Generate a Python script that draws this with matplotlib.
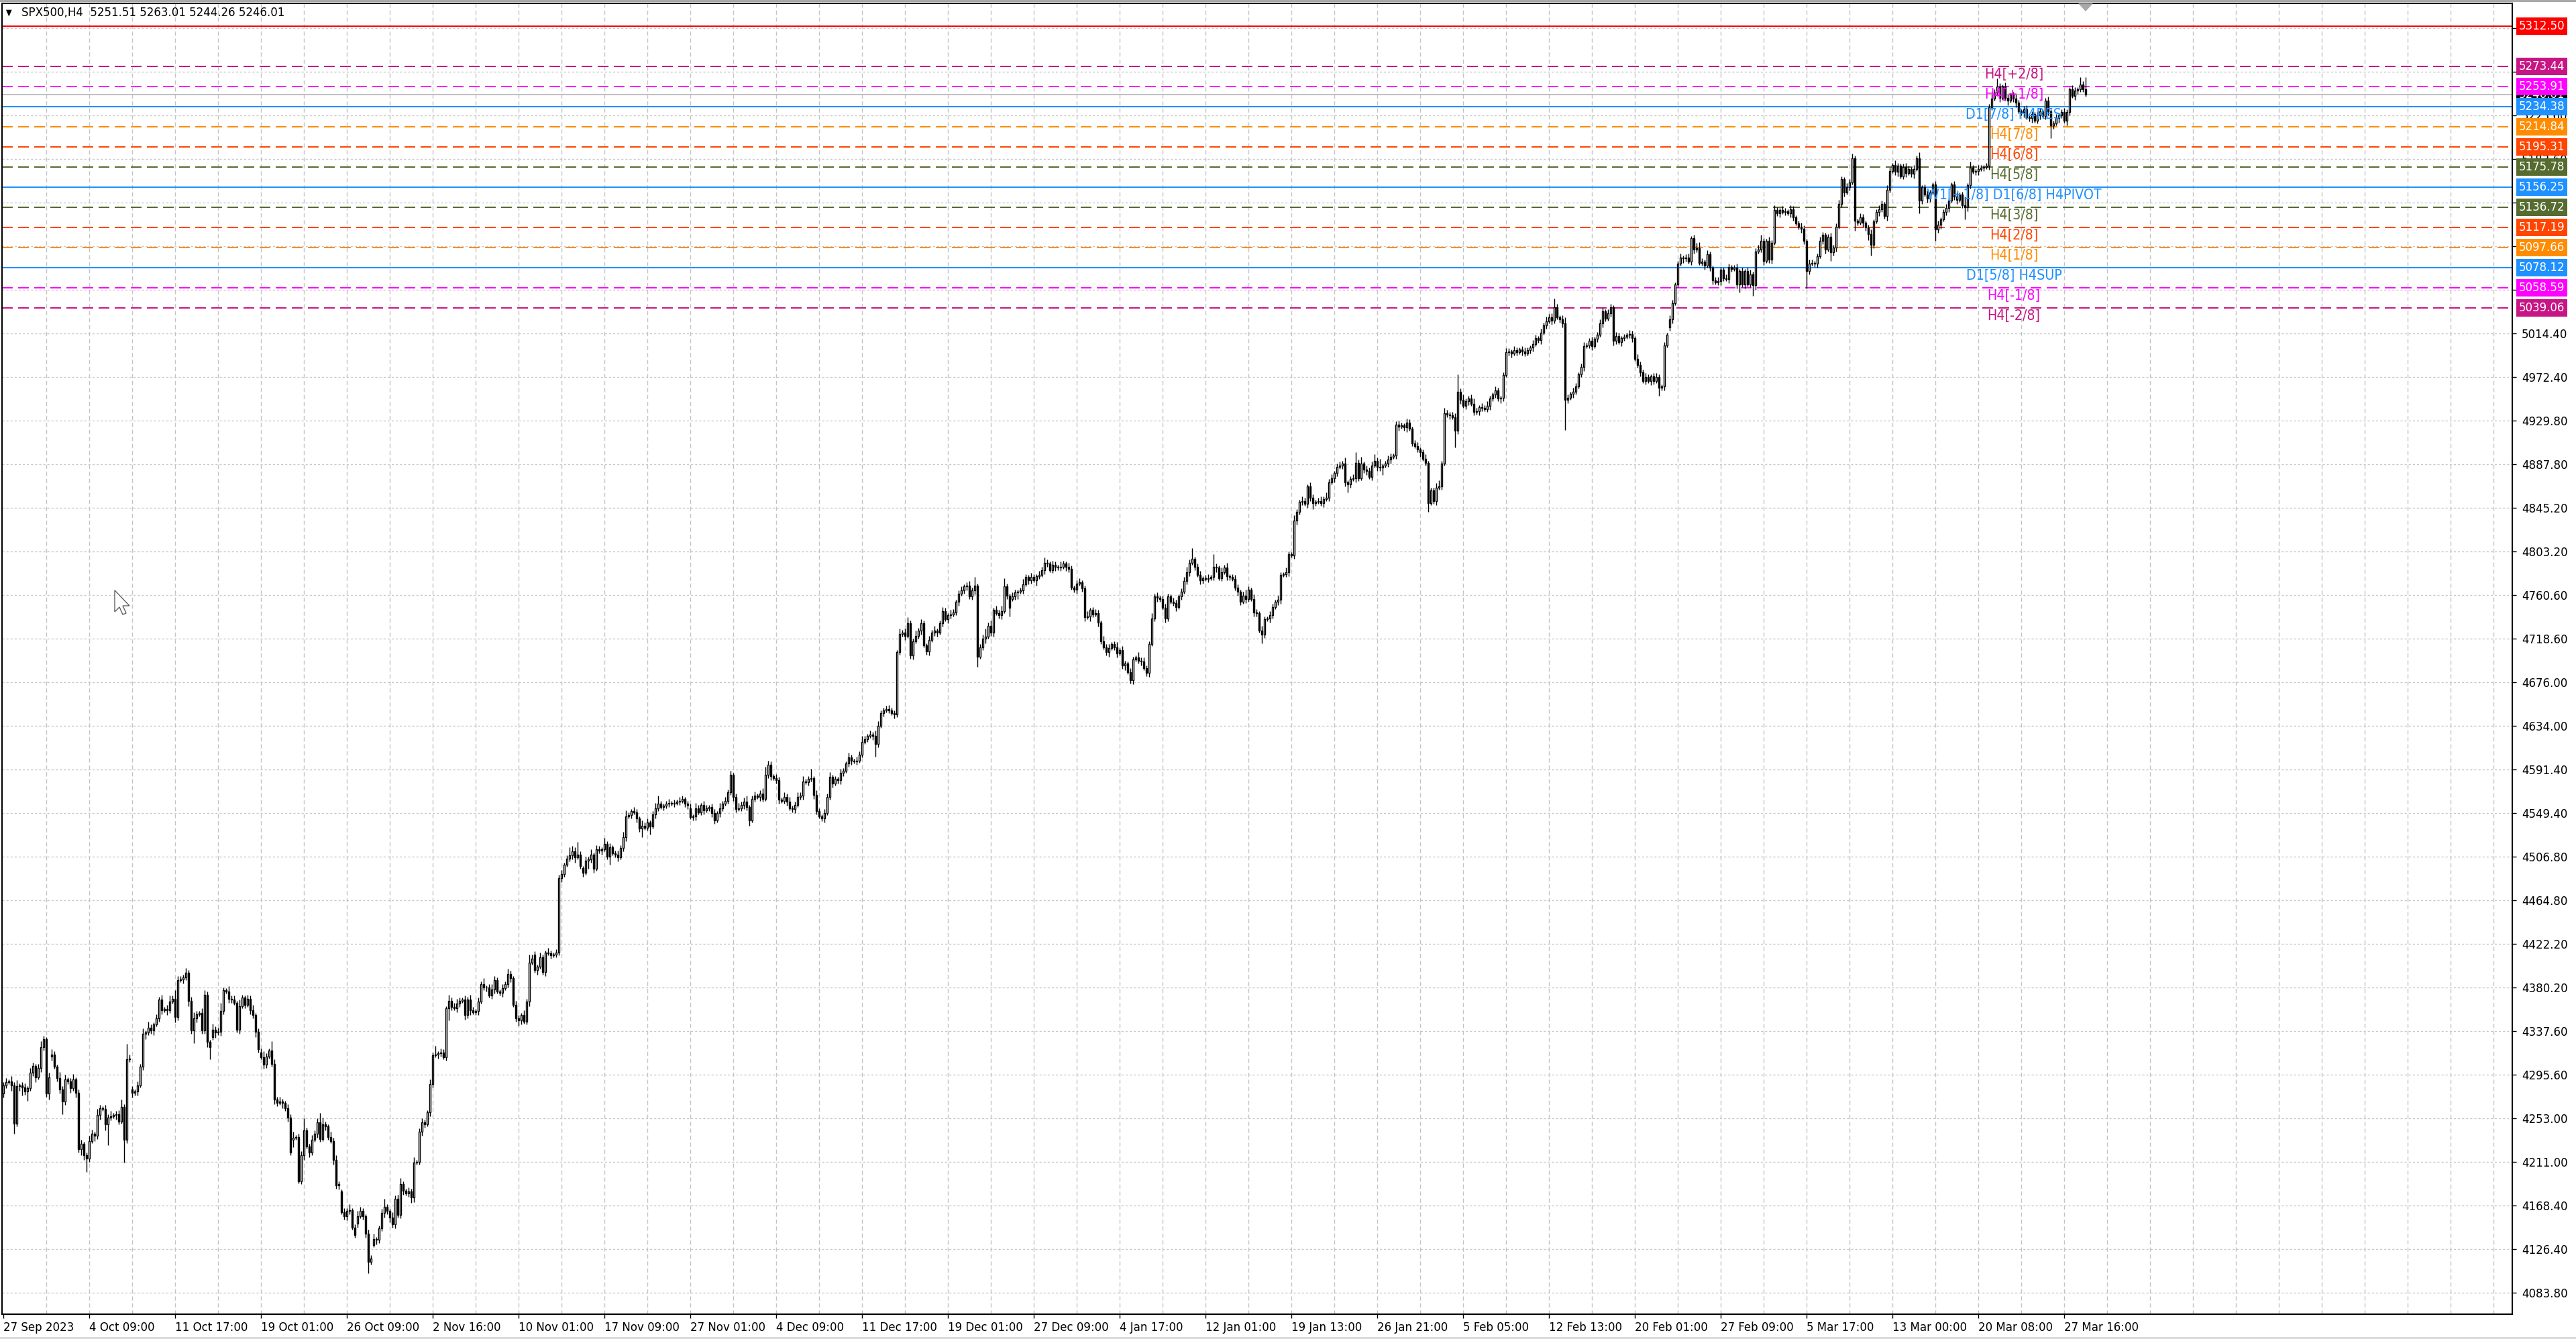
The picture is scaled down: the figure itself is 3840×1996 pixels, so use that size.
import matplotlib
matplotlib.use('Agg')
import matplotlib.pyplot as plt
import matplotlib.transforms as mtransforms
from matplotlib import font_manager
from matplotlib.patches import Polygon, Rectangle
import numpy as np

# ---- data (SPX500, H4) ----
first_open = 4277
closes = [
    4285, 4288, 4289, 4285, 4248, 4284, 4285, 4283, 4279, 4282,
    4297, 4304, 4293, 4302, 4322, 4330, 4277, 4293, 4315, 4303,
    4292, 4281, 4269, 4291, 4289, 4282, 4291, 4278, 4223, 4228,
    4217, 4214, 4231, 4238, 4236, 4256, 4263, 4262, 4247, 4254,
    4255, 4256, 4257, 4250, 4264, 4232, 4310, 4311, 4278, 4279,
    4285, 4303, 4335, 4336, 4341, 4338, 4344, 4350, 4368, 4358,
    4359, 4358, 4366, 4369, 4351, 4387, 4388, 4390, 4394, 4367,
    4338, 4350, 4354, 4355, 4338, 4373, 4327, 4322, 4339, 4336,
    4337, 4357, 4377, 4376, 4369, 4368, 4365, 4339, 4362, 4370,
    4363, 4369, 4358, 4353, 4337, 4320, 4312, 4305, 4313, 4319,
    4306, 4271, 4268, 4269, 4268, 4263, 4254, 4220, 4234, 4235,
    4192, 4217, 4241, 4226, 4220, 4232, 4238, 4249, 4233, 4247,
    4245, 4235, 4231, 4213, 4188, 4189, 4162, 4158, 4163, 4164,
    4147, 4140, 4158, 4163, 4158, 4141, 4114, 4117, 4136, 4135,
    4146, 4161, 4167, 4163, 4157, 4150, 4175, 4159, 4189, 4183,
    4180, 4182, 4176, 4210, 4211, 4240, 4249, 4247, 4259, 4286,
    4314, 4315, 4316, 4317, 4312, 4360, 4367, 4361, 4360, 4364,
    4367, 4368, 4353, 4368, 4358, 4356, 4357, 4366, 4383, 4380,
    4380, 4372, 4378, 4387, 4376, 4375, 4379, 4383, 4393, 4389,
    4363, 4350, 4348, 4353, 4347, 4366, 4404, 4408, 4397, 4400,
    4409, 4395, 4414, 4413, 4411, 4412, 4414, 4486, 4490, 4499,
    4505, 4508, 4512, 4506, 4509, 4498, 4491, 4503, 4504, 4509,
    4495, 4514, 4513, 4514, 4519, 4507, 4516, 4510, 4509, 4506,
    4515, 4526, 4546, 4547, 4551, 4550, 4544, 4534, 4537, 4535,
    4540, 4536, 4548, 4554, 4558, 4555, 4556, 4558, 4559, 4558,
    4559, 4560, 4561, 4563, 4558, 4557, 4545, 4546, 4554, 4550,
    4557, 4552, 4554, 4555, 4549, 4542, 4549, 4554, 4558, 4561,
    4569, 4586, 4565, 4553, 4554, 4557, 4560, 4555, 4542, 4563,
    4566, 4565, 4568, 4563, 4586, 4596, 4585, 4583, 4581, 4562,
    4561, 4565, 4560, 4554, 4553, 4557, 4565, 4566, 4580, 4579,
    4582, 4583, 4567, 4551, 4546, 4544, 4549, 4565, 4584, 4578,
    4582, 4581, 4588, 4590, 4597, 4603, 4600, 4599, 4600, 4606,
    4618, 4621, 4624, 4625, 4624, 4616, 4634, 4646, 4649, 4650,
    4649, 4646, 4645, 4705, 4723, 4724, 4721, 4733, 4702, 4716,
    4721, 4726, 4733, 4712, 4706, 4717, 4724, 4726, 4724, 4733,
    4745, 4737, 4741, 4742, 4744, 4754, 4762, 4765, 4769, 4770,
    4759, 4765, 4770, 4701, 4710, 4718, 4720, 4731, 4724, 4746,
    4743, 4741, 4745, 4769, 4760, 4748, 4759, 4763, 4764, 4765,
    4771, 4778, 4775, 4778, 4775, 4779, 4780, 4785, 4792, 4791,
    4785, 4790, 4788, 4787, 4788, 4791, 4788, 4786, 4768, 4766,
    4772, 4773, 4767, 4739, 4740, 4746, 4742, 4743, 4734, 4716,
    4710, 4705, 4709, 4713, 4710, 4704, 4707, 4692, 4694, 4686,
    4678, 4698, 4700, 4697, 4696, 4690, 4685, 4713, 4738, 4759,
    4758, 4757, 4748, 4738, 4759, 4754, 4753, 4749, 4759, 4764,
    4774, 4783, 4792, 4796, 4788, 4780, 4775, 4777, 4776, 4777,
    4778, 4788, 4787, 4777, 4783, 4787, 4779, 4778, 4776, 4768,
    4764, 4754, 4760, 4757, 4766, 4757, 4744, 4743, 4726, 4722,
    4737, 4738, 4741, 4749, 4754, 4756, 4780, 4781, 4783, 4800,
    4799, 4833, 4841, 4851, 4852, 4849, 4866, 4855, 4850, 4851,
    4852, 4850, 4854, 4855, 4870, 4874, 4879, 4885, 4886, 4888,
    4870, 4868, 4873, 4874, 4889, 4874, 4888, 4882, 4881, 4875,
    4886, 4891, 4885, 4884, 4886, 4888, 4892, 4895, 4896, 4926,
    4924, 4925, 4923, 4928, 4922, 4908, 4905, 4902, 4899, 4893,
    4889, 4850, 4862, 4852, 4865, 4866, 4888, 4937, 4936, 4935,
    4933, 4920, 4958, 4950, 4944, 4949, 4951, 4946, 4938, 4939,
    4943, 4942, 4941, 4944, 4951, 4955, 4959, 4951, 4952, 4974,
    4996, 4997, 4995, 4998, 4996, 4999, 4997, 4995, 4998, 5001,
    5004, 5010, 5008, 5015, 5022, 5026, 5030, 5027, 5040, 5030,
    5028, 5024, 4950, 4952, 4956, 4958, 4963, 4975, 4982, 5002,
    5003, 5007, 5002, 5009, 5013, 5024, 5036, 5029, 5034, 5040,
    5007, 5012, 5006, 5010, 5011, 5013, 5014, 5010, 4990, 4984,
    4977, 4968, 4972, 4968, 4973, 4968, 4972, 4962, 4963, 5003,
    5013, 5028, 5044, 5062, 5082, 5088, 5087, 5088, 5084, 5107,
    5096, 5097, 5083, 5084, 5080, 5091, 5078, 5066, 5064, 5065,
    5076, 5068, 5067, 5079, 5077, 5078, 5062, 5075, 5062, 5075,
    5062, 5072, 5061, 5094, 5096, 5104, 5085, 5104, 5086, 5102,
    5134, 5131, 5134, 5132, 5133, 5131, 5135, 5127, 5121, 5118,
    5116, 5104, 5075, 5082, 5083, 5082, 5089, 5104, 5110, 5096,
    5108, 5093, 5098, 5118, 5140, 5164, 5151, 5156, 5161, 5184,
    5124, 5122, 5127, 5122, 5117, 5111, 5100, 5123, 5132, 5135,
    5140, 5128, 5154, 5172, 5178, 5171, 5177, 5167, 5176, 5170,
    5174, 5169, 5174, 5184, 5143, 5156, 5149, 5145, 5151, 5159,
    5115, 5120, 5125, 5132, 5136, 5143, 5159, 5147, 5144, 5149,
    5139, 5137, 5158, 5175, 5171, 5172, 5174, 5175, 5176, 5177,
    5234, 5242, 5248, 5254, 5243, 5254, 5243, 5240, 5246, 5242,
    5238, 5230, 5229, 5232, 5224, 5223, 5227, 5221, 5226, 5230,
    5225, 5240, 5230, 5216, 5218, 5223, 5226, 5229, 5221, 5229,
    5251, 5245, 5250, 5251, 5256, 5251.51, 5246.01,
]
# opens that differ from the previous close (session gaps)
gap_opens = {18: 4313, 48: 4281, 78: 4332, 96: 4317, 108: 4232, 126: 4182,
             132: 4151, 138: 4130, 198: 4412, 216: 4496, 256: 4554, 376: 4757,
             621: 5020}
wick_up = [
    3, 4, 2, 5, 3, 6, 2, 3, 4, 2, 5, 3, 2, 4, 6, 3, 2, 4, 5, 3,
    2, 6, 3, 4, 2, 3, 5, 2, 3, 4, 2, 3, 5, 4, 2, 6, 3, 2, 4, 3,
    5, 2, 3, 4, 7, 3, 15, 4, 3, 2, 4, 3, 5, 2, 6, 3, 2, 4, 3, 5,
    2, 4, 6, 3, 8, 4, 3, 2, 5, 3, 4, 6, 3, 2, 5, 4, 3, 2, 6, 3,
    4, 8, 3, 2, 5, 3, 4, 2, 6, 3, 2, 4, 3, 5, 2, 3, 4, 6, 3, 2,
    9, 4, 3, 5, 3, 2, 4, 3, 6, 2, 3, 4, 12, 3, 2, 5, 3, 4, 9, 7,
    3, 2, 5, 3, 4, 3, 2, 4, 3, 6, 2, 3, 5, 4, 3, 2, 4, 3, 5, 2,
    3, 4, 8, 3, 2, 5, 3, 4, 6, 3, 2, 4, 3, 5, 2, 3, 4, 3, 2, 5,
    3, 8, 2, 4, 3, 2, 6, 3, 4, 5, 3, 2, 4, 3, 5, 3, 2, 4, 3, 6,
    2, 3, 5, 4, 3, 2, 4, 3, 5, 3, 2, 4, 3, 2, 5, 3, 8, 4, 3, 2,
    5, 3, 2, 4, 3, 2, 3, 3, 4, 2, 3, 8, 5, 4, 12, 3, 2, 4, 3, 5,
    2, 4, 3, 2, 6, 3, 4, 2, 3, 4, 3, 5, 6, 3, 2, 4, 3, 2, 5, 3,
    4, 2, 3, 5, 8, 3, 2, 3, 4, 2, 3, 2, 4, 3, 2, 3, 4, 2, 5, 3,
    2, 4, 3, 2, 3, 4, 2, 5, 3, 4, 3, 4, 2, 3, 5, 3, 4, 6, 2, 3,
    4, 2, 3, 5, 8, 4, 3, 2, 4, 3, 2, 4, 3, 5, 2, 3, 4, 3, 5, 2,
    3, 9, 2, 4, 3, 2, 4, 3, 5, 2, 3, 2, 4, 3, 2, 5, 3, 2, 4, 3,
    6, 3, 2, 4, 3, 5, 4, 3, 2, 3, 4, 2, 3, 2, 5, 3, 4, 6, 3, 2,
    5, 3, 4, 3, 2, 4, 3, 5, 2, 3, 4, 3, 2, 4, 3, 2, 3, 4, 2, 3,
    4, 3, 8, 2, 3, 4, 8, 3, 5, 2, 4, 3, 5, 8, 3, 2, 4, 3, 2, 3,
    5, 3, 2, 4, 3, 2, 4, 3, 5, 3, 2, 4, 3, 2, 5, 3, 2, 4, 3, 2,
    3, 4, 2, 3, 5, 2, 3, 4, 3, 2, 5, 3, 4, 2, 3, 5, 2, 4, 3, 2,
    4, 3, 2, 5, 3, 4, 2, 3, 5, 3, 4, 2, 3, 4, 3, 2, 4, 3, 2, 3,
    4, 5, 3, 10, 2, 3, 4, 2, 3, 4, 2, 12, 3, 2, 4, 3, 5, 2, 3, 4,
    3, 2, 4, 6, 3, 2, 4, 3, 2, 5, 3, 2, 4, 3, 2, 4, 3, 2, 4, 3,
    2, 5, 3, 2, 4, 3, 2, 4, 3, 2, 3, 4, 2, 5, 3, 4, 2, 3, 4, 3,
    6, 2, 3, 4, 10, 3, 7, 2, 4, 3, 4, 6, 3, 8, 2, 3, 4, 3, 2, 3,
    4, 3, 2, 4, 3, 2, 3, 4, 2, 3, 4, 2, 3, 3, 4, 6, 3, 5, 3, 2,
    3, 4, 17, 3, 5, 2, 3, 4, 5, 3, 2, 4, 3, 5, 3, 2, 4, 3, 2, 3,
    4, 3, 2, 4, 3, 2, 3, 4, 3, 2, 4, 3, 2, 4, 3, 5, 3, 4, 8, 3,
    2, 4, 6, 3, 2, 4, 3, 2, 3, 4, 2, 3, 4, 2, 3, 4, 3, 2, 4, 3,
    2, 4, 3, 2, 3, 2, 4, 3, 2, 4, 3, 2, 4, 3, 2, 3, 4, 3, 2, 3,
    2, 4, 3, 2, 3, 4, 2, 3, 4, 2, 3, 5, 6, 3, 2, 4, 3, 2, 3, 4,
    3, 2, 4, 3, 2, 3, 4, 2, 3, 2, 3, 4, 2, 3, 4, 6, 3, 2, 4, 3,
    5, 3, 2, 4, 3, 2, 4, 3, 2, 3, 4, 3, 2, 4, 3, 2, 3, 4, 3, 2,
    3, 4, 2, 3, 4, 3, 2, 4, 3, 5, 3, 2, 4, 3, 2, 3, 4, 2, 3, 4,
    3, 2, 4, 3, 2, 4, 3, 2, 3, 4, 3, 2, 4, 3, 6, 2, 3, 4, 3, 2,
    3, 4, 2, 3, 4, 3, 2, 3, 4, 2, 3, 8, 2, 6, 3, 2, 4, 3, 2, 3,
    3, 4, 3, 8, 3, 2, 4, 3, 2, 3, 4, 3, 2, 3, 4, 2, 3, 2, 4, 3,
    2, 3, 4, 2, 3, 4, 2, 3, 4, 3, 2, 4, 3, 2, 7, 3, 0,
]
wick_dn = [
    4, 3, 2, 5, 10, 3, 4, 8, 3, 9, 2, 3, 5, 2, 4, 3, 3, 6, 4, 2,
    3, 4, 12, 3, 3, 4, 2, 5, 3, 6, 4, 13, 3, 2, 5, 3, 4, 2, 6, 20,
    3, 2, 4, 3, 2, 22, 3, 2, 5, 3, 4, 2, 3, 5, 2, 3, 4, 2, 3, 4,
    2, 5, 3, 2, 5, 3, 2, 4, 3, 5, 3, 12, 4, 2, 3, 3, 5, 12, 3, 5,
    2, 4, 3, 2, 4, 3, 2, 3, 4, 2, 3, 2, 4, 3, 5, 3, 2, 4, 3, 2,
    3, 4, 3, 2, 5, 3, 4, 3, 7, 2, 2, 3, 4, 2, 5, 3, 2, 4, 3, 2,
    4, 3, 2, 5, 3, 4, 2, 3, 4, 3, 2, 3, 4, 2, 3, 4, 11, 3, 2, 4,
    3, 2, 4, 3, 5, 3, 4, 2, 3, 4, 2, 3, 5, 4, 2, 3, 4, 3, 2, 4,
    3, 2, 4, 3, 2, 3, 12, 3, 2, 4, 3, 2, 4, 3, 5, 2, 3, 4, 2, 3,
    4, 2, 3, 4, 2, 3, 4, 2, 3, 4, 2, 3, 5, 4, 2, 3, 4, 2, 3, 5,
    2, 3, 4, 2, 3, 2, 3, 3, 4, 3, 2, 3, 4, 5, 2, 3, 4, 2, 8, 3,
    4, 2, 3, 4, 2, 3, 8, 2, 3, 4, 2, 3, 4, 2, 3, 2, 4, 3, 8, 2,
    3, 8, 2, 4, 3, 2, 3, 2, 3, 2, 3, 2, 3, 2, 3, 4, 2, 3, 4, 2,
    3, 4, 2, 3, 4, 3, 2, 4, 3, 2, 3, 2, 4, 3, 2, 3, 4, 3, 5, 2,
    3, 2, 4, 3, 2, 3, 4, 2, 3, 4, 2, 3, 4, 2, 3, 4, 2, 3, 4, 2,
    3, 2, 4, 3, 2, 3, 4, 2, 3, 4, 2, 3, 4, 3, 2, 3, 4, 2, 3, 2,
    3, 2, 3, 2, 4, 12, 3, 2, 3, 2, 3, 2, 4, 3, 2, 3, 4, 2, 3, 4,
    2, 3, 4, 2, 3, 4, 2, 3, 4, 2, 3, 2, 4, 3, 2, 3, 4, 2, 3, 4,
    2, 3, 4, 10, 2, 3, 4, 2, 3, 4, 2, 3, 4, 2, 3, 8, 2, 3, 6, 2,
    3, 2, 4, 3, 2, 5, 3, 2, 4, 3, 2, 3, 4, 2, 3, 2, 4, 3, 2, 3,
    4, 2, 3, 4, 2, 5, 3, 2, 4, 3, 2, 3, 4, 2, 3, 4, 2, 3, 4, 2,
    3, 4, 2, 3, 4, 2, 3, 4, 2, 3, 4, 3, 2, 4, 3, 2, 3, 4, 2, 3,
    2, 3, 4, 2, 3, 2, 4, 3, 2, 3, 2, 3, 4, 2, 3, 2, 4, 3, 2, 3,
    4, 3, 2, 4, 3, 2, 4, 3, 2, 8, 3, 2, 4, 3, 2, 3, 4, 2, 3, 4,
    2, 3, 4, 2, 3, 2, 4, 3, 6, 3, 2, 3, 4, 2, 3, 2, 4, 3, 2, 3,
    4, 8, 3, 2, 4, 3, 2, 3, 4, 2, 3, 2, 4, 3, 7, 2, 3, 4, 2, 3,
    4, 2, 3, 4, 2, 3, 2, 3, 4, 2, 3, 9, 2, 3, 4, 2, 3, 2, 3, 4,
    2, 16, 3, 4, 2, 3, 4, 2, 3, 2, 4, 3, 2, 3, 4, 2, 3, 2, 4, 3,
    2, 3, 4, 2, 3, 2, 4, 3, 2, 3, 4, 2, 3, 4, 2, 3, 2, 4, 3, 2,
    3, 4, 29, 3, 2, 4, 3, 2, 3, 4, 2, 3, 4, 2, 3, 2, 4, 3, 2, 3,
    4, 3, 2, 4, 3, 2, 3, 4, 2, 3, 4, 2, 3, 2, 4, 3, 2, 8, 3, 4,
    2, 3, 4, 2, 3, 2, 4, 3, 2, 3, 4, 3, 2, 3, 4, 2, 3, 4, 2, 3,
    4, 3, 2, 4, 3, 2, 4, 8, 3, 4, 2, 3, 10, 4, 2, 3, 4, 2, 3, 4,
    2, 3, 4, 2, 3, 2, 4, 3, 2, 3, 4, 3, 17, 3, 2, 3, 4, 2, 3, 4,
    2, 8, 3, 4, 2, 3, 4, 2, 3, 2, 10, 3, 2, 4, 3, 6, 10, 3, 2, 4,
    3, 2, 4, 3, 2, 3, 4, 2, 3, 4, 2, 3, 4, 2, 12, 3, 2, 4, 3, 2,
    11, 3, 4, 2, 3, 4, 2, 3, 4, 2, 3, 12, 4, 3, 2, 3, 4, 2, 3, 2,
    4, 3, 2, 3, 4, 2, 3, 4, 2, 3, 4, 2, 3, 5, 2, 3, 4, 2, 3, 4,
    2, 3, 4, 12, 3, 2, 4, 3, 2, 5, 3, 2, 4, 3, 2, 3, 0,
]
last_bar = [5251.51, 5263.01, 5244.26, 5246.01]   # O H L C of the live bar

x_labels = ['27 Sep 2023', '4 Oct 09:00', '11 Oct 17:00', '19 Oct 01:00', '26 Oct 09:00',
            '2 Nov 16:00', '10 Nov 01:00', '17 Nov 09:00', '27 Nov 01:00', '4 Dec 09:00',
            '11 Dec 17:00', '19 Dec 01:00', '27 Dec 09:00', '4 Jan 17:00', '12 Jan 01:00',
            '19 Jan 13:00', '26 Jan 21:00', '5 Feb 05:00', '12 Feb 13:00', '20 Feb 01:00',
            '27 Feb 09:00', '5 Mar 17:00', '13 Mar 00:00', '20 Mar 08:00', '27 Mar 16:00']
y_ticks = [4083.80, 4126.40, 4168.40, 4211.00, 4253.00, 4295.60, 4337.60, 4380.20,
           4422.20, 4464.80, 4506.80, 4549.40, 4591.40, 4634.00, 4676.00, 4718.60,
           4760.60, 4803.20, 4845.20, 4887.80, 4929.80, 4972.40, 5014.40, 5057.00,
           5099.00, 5141.60, 5183.60, 5225.60, 5268.20, 5310.20]
# scale values fully covered by the level price boxes (no label drawn)
y_hidden = [5057.00, 5268.20, 5310.20]

level_prices = [5312.50, 5273.44, 5253.91, 5234.38, 5214.84, 5195.31, 5175.78,
                5156.25, 5136.72, 5117.19, 5097.66, 5078.12, 5058.59, 5039.06]
level_names = ['', 'H4[+2/8]', 'H4[+1/8]', 'D1[7/8] H4RES', 'H4[7/8]', 'H4[6/8]',
               'H4[5/8]', 'W1[+1/8] D1[6/8] H4PIVOT', 'H4[3/8]', 'H4[2/8]', 'H4[1/8]',
               'D1[5/8] H4SUP', 'H4[-1/8]', 'H4[-2/8]']
level_colors = ['#FF0000', '#C71585', '#FF00FF', '#1E90FF', '#FF8C00', '#FF4500',
                '#556B2F', '#1E90FF', '#556B2F', '#FF4500', '#FF8C00', '#1E90FF',
                '#FF00FF', '#C71585']
level_solid = [True, False, False, True, False, False, False,
               True, False, False, False, True, False, False]

assert len(closes) == len(wick_up) == len(wick_dn), (len(closes), len(wick_up), len(wick_dn))

# ---- fonts: MT4 text is narrow ----
names = {f.name for f in font_manager.fontManager.ttflist}
if 'Liberation Sans Narrow' in names:
    plt.rcParams['font.family'] = ['Liberation Sans Narrow', 'DejaVu Sans']
    FS, FS_LVL = 17.5, 20
else:
    plt.rcParams['font.family'] = ['DejaVu Sans']
    plt.rcParams['font.stretch'] = 'condensed'
    FS, FS_LVL = 13.3, 15.3

# ---- candles ----
n = len(closes)
c = np.array(closes, dtype=float)
o = np.empty(n)
o[0] = first_open
o[1:] = c[:-1]
for i, v in gap_opens.items():
    o[i] = v
h = np.maximum(o, c) + np.array(wick_up)
l = np.minimum(o, c) - np.array(wick_dn)
o[-1], h[-1], l[-1], c[-1] = last_bar
x = np.arange(n)

W, H = 3840, 1996
L, R, T, B = 3, 3745, 5, 1959
fig = plt.figure(figsize=(W / 100, H / 100), dpi=100, facecolor='white')
ax = fig.add_axes([L / W, (H - B) / H, (R - L) / W, (B - T) / H])
ax.set_facecolor('white')
ax.set_xlim(-0.5, -0.5 + (R - L) / 4.0)
ax.set_ylim(4063.0, 5334.6)
for s in ax.spines.values():
    s.set_linewidth(1.5)
    s.set_color('black')

# grid
for p in y_ticks:
    ax.axhline(p, color='#C8C8C8', lw=1.0, dashes=(2.2, 2.2), zorder=0.5)
for b in range(16, 936, 16):
    ax.axvline(b, color='#C4C4C4', lw=1.0, dashes=(4.5, 3), zorder=0.5)

# levels
for p, col, solid in zip(level_prices, level_colors, level_solid):
    if solid:
        ax.axhline(p, color=col, lw=1.44, zorder=1)
    else:
        ax.axhline(p, color=col, lw=1.44, dashes=(8, 4), zorder=1)
ax.axhline(last_bar[3], color='#C0C0C0', lw=1.44, zorder=1)

ax.vlines(x, l, h, color='black', lw=1.0, zorder=3)
up = c >= o
ax.bar(x[up], (c - o)[up], bottom=o[up], width=0.72, facecolor='white',
       edgecolor='black', linewidth=1.0, zorder=4)
ax.bar(x[~up], (c - o)[~up], bottom=o[~up], width=0.72, facecolor='black',
       edgecolor='black', linewidth=1.0, zorder=4)

lbl_x = (3002 - 5) / 4.0
for p, name, col in zip(level_prices, level_names, level_colors):
    if name:
        ax.text(lbl_x, p - 7.8, name, color=col, fontsize=FS_LVL, ha='center',
                va='center', zorder=6)

# axes ticks
ax.set_xticks(np.arange(0, 32 * len(x_labels), 32))
ax.set_xticklabels(x_labels, ha='left')
ax.tick_params(axis='x', direction='out', length=4, width=1.0, pad=4, labelsize=FS)
ax.yaxis.tick_right()
ax.set_yticks(y_ticks)
ax.set_yticklabels(['' if v in y_hidden else f'{v:.2f}' for v in y_ticks])
ax.tick_params(axis='y', direction='out', length=4, width=1.0, pad=6, labelsize=FS)

# price boxes on the right scale
trans = mtransforms.blended_transform_factory(ax.transAxes, ax.transData)
box_x = (3755 - L) / (R - L)
box_list = [(last_bar[3], 'black')] + list(zip(level_prices, level_colors))
for p, col in box_list:
    ax.text(box_x, p, f'{p:.2f}', transform=trans, color='white', fontsize=FS,
            ha='left', va='center', clip_on=False, zorder=10,
            bbox=dict(boxstyle='square,pad=0.2', fc=col, ec='none'))

# title line
fig.text(9 / W, 1 - 19 / H, '\u25bc', fontsize=9, family='DejaVu Sans',
         va='center', ha='left')
fig.text(32 / W, 1 - 19 / H, 'SPX500,H4  ' + ' '.join(f'{v:.2f}' for v in last_bar),
         fontsize=FS, va='center', ha='left')

# chart shift marker, window strips, mouse pointer (pixel coords)
px = mtransforms.IdentityTransform()
fig.patches.append(Polygon([(3098, H - 5), (3120, H - 5), (3109, H - 17)],
                           closed=True, transform=px, fc='#A8A8A8', ec='none'))
fig.patches.append(Rectangle((0, H - 3), W, 3, transform=px, fc='#A9A9A9', ec='none'))
fig.patches.append(Rectangle((0, 0), W, 3, transform=px, fc='#DADADA', ec='none'))
tip = (171, 880)
arrow = [(0, 0), (0, 32), (7, 25), (12, 36), (17, 34), (12, 23), (22, 23)]
fig.patches.append(Polygon([(tip[0] + a, H - (tip[1] + b)) for a, b in arrow],
                           closed=True, transform=px, fc='white', ec='#606060', lw=1.0))

fig.savefig('out.png', dpi=100, facecolor='white')
